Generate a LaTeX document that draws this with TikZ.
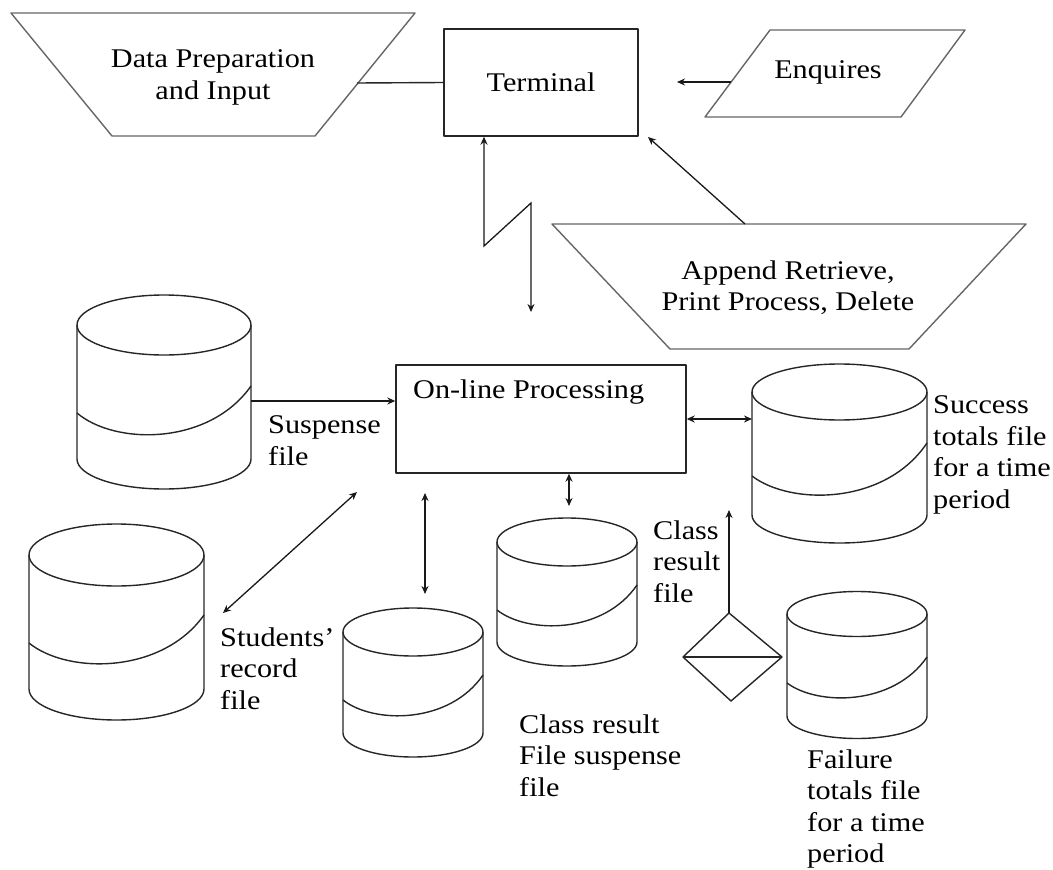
\documentclass[tikz,border=0pt]{standalone}
\usepackage{fontspec}
\setmainfont{Liberation Serif}[FakeStretch=1.12]
\usetikzlibrary{arrows.meta,calc}
\newcommand\dbcyl[9]{%
  \pgfmathsetmacro\cxx{(#2+#3)/2}%
  \pgfmathsetmacro\rxx{(#3-#2)/2}%
  \pgfmathsetmacro\cyy{(8*#8-#7-#9)/6}%
  \pgfmathsetmacro\cxa{#2+0.22*(#3-#2)}%
  \pgfmathsetmacro\cxb{#2+0.76*(#3-#2)}%
  \draw[shp] (\cxx,#4) ellipse [x radius=\rxx, y radius=#6];
  \draw[shp] (#2,#4) -- (#2,#5) arc[start angle=180, end angle=0, x radius=\rxx, y radius=#6] -- (#3,#4);
  \draw[shp] (#2,#7) .. controls (\cxa,\cyy) and (\cxb,\cyy) .. (#3,#9);
  \coordinate (#1) at (\cxx,{(#4+#5)/2});
}
\begin{document}
\begin{tikzpicture}[x=1pt,y=-1pt,
  shp/.style={line width=1.4pt, draw=black!85, line join=round},
  gshp/.style={line width=1.4pt, draw=black!60, line join=round},
  arr/.style={line width=1.3pt, draw=black!90, -{Stealth[length=8pt,width=7pt]}},
  darr/.style={line width=1.3pt, draw=black!90, {Stealth[length=8pt,width=7pt]}-{Stealth[length=8pt,width=7pt]}},
  txt/.style={font=\fontsize{27}{31.5}\selectfont},
  lbl/.style={txt, inner sep=0pt, anchor=north west, align=left},
]
\useasboundingbox (0,0) rectangle (1053,870);

% Data preparation and input
\draw[gshp] (11,13) -- (415,13) -- (315,136) -- (112,136) -- cycle;
\coordinate (dpR) at (357,83);
\node[lbl, anchor=north, align=center] (dp) at (213,49.5) {Data Preparation\\and Input};

% Terminal
\node[shp, draw, rectangle, minimum width=194pt, minimum height=107pt, inner sep=0pt, txt] (term) at (541,82.5) {Terminal};
\draw[shp] (dpR) -- (term.west);

% Enquires
\draw[gshp] (770,30) -- (965,30) -- (901,117) -- (705,117) -- cycle;
\coordinate (enqL) at (731,82);
\coordinate (enqTip) at (677,82);
\node[lbl, anchor=north] (enq) at (828,60) {Enquires};
\draw[arr] (enqL) -- (enqTip);

% Append Retrieve
\draw[gshp] (552,224) -- (1026,224) -- (909,349) -- (670,349) -- cycle;
\coordinate (appT) at (745,224);
\coordinate (termSE) at (648,137);
\node[lbl, anchor=north, align=center] (app) at (788,260.5) {Append Retrieve,\\Print Process, Delete};
\draw[arr] (appT) -- (termSE);

% zigzag link
\coordinate (zzB) at (484,246);
\coordinate (zzC) at (531,203);
\coordinate (zzD) at (531,312);
\draw[darr] (term.south -| zzB) -- (zzB) -- (zzC) -- (zzD);

% On-line processing
\node[shp, draw, rectangle, minimum width=290pt, minimum height=108pt, inner sep=0pt] (online) at (541,419) {};
\node[lbl] (onlinet) at (413,379.5) {On-line Processing};

% cylinders
\dbcyl{susp}{77}{251}{325}{459}{30}{413}{434}{386}
\dbcyl{stud}{29}{204}{555}{689}{31}{643}{663}{615}
\dbcyl{csus}{343}{483}{632}{733}{24}{700}{715}{675}
\dbcyl{cres}{497}{637}{542}{642}{24}{610}{625}{585}
\dbcyl{fail}{787}{927}{614}{716}{22.5}{683}{697}{657}
\dbcyl{succ}{752}{927}{392}{515}{28}{476}{494}{443}

% diamond
\coordinate (diaT) at (729,613);
\coordinate (diaL) at (683,657);
\coordinate (diaR) at (782,657);
\coordinate (diaB) at (731,701);
\draw[shp] (diaT) -- (diaR) -- (diaB) -- (diaL) -- cycle;
\draw[shp] (diaL) -- (diaR);

% connectors
\coordinate (suspE) at (251,401);
\draw[arr] (suspE) -- (online.west |- suspE);
\coordinate (stuA) at (223,613);
\coordinate (stuB) at (357,492);
\draw[darr] (stuA) -- (stuB);
\coordinate (csA) at (425,493);
\coordinate (csB) at (425,594);
\draw[darr] (csA) -- (csB);
\coordinate (crTop) at (569,506);
\draw[darr] (online.south -| crTop) -- (crTop);
\coordinate (sucW) at (752,419);
\draw[darr] (online.east |- sucW) -- (sucW);
\coordinate (upTip) at (729,510);
\draw[arr] (diaT) -- (upTip);

% labels
\node[lbl] (suspl) at (268,415.5) {Suspense\\file};
\node[lbl] (studl) at (220,627.5) {Students’\\record\\file};
\node[lbl] (csusl) at (519,714.5) {Class result\\File suspense\\file};
\node[lbl] (cresl) at (653,520.5) {Class\\result\\file};
\node[lbl] (succl) at (933,395.5) {Success\\totals file\\for a time\\period};
\node[lbl] (faill) at (807,749.5) {Failure\\totals file\\for a time\\period};
\end{tikzpicture}
\end{document}
